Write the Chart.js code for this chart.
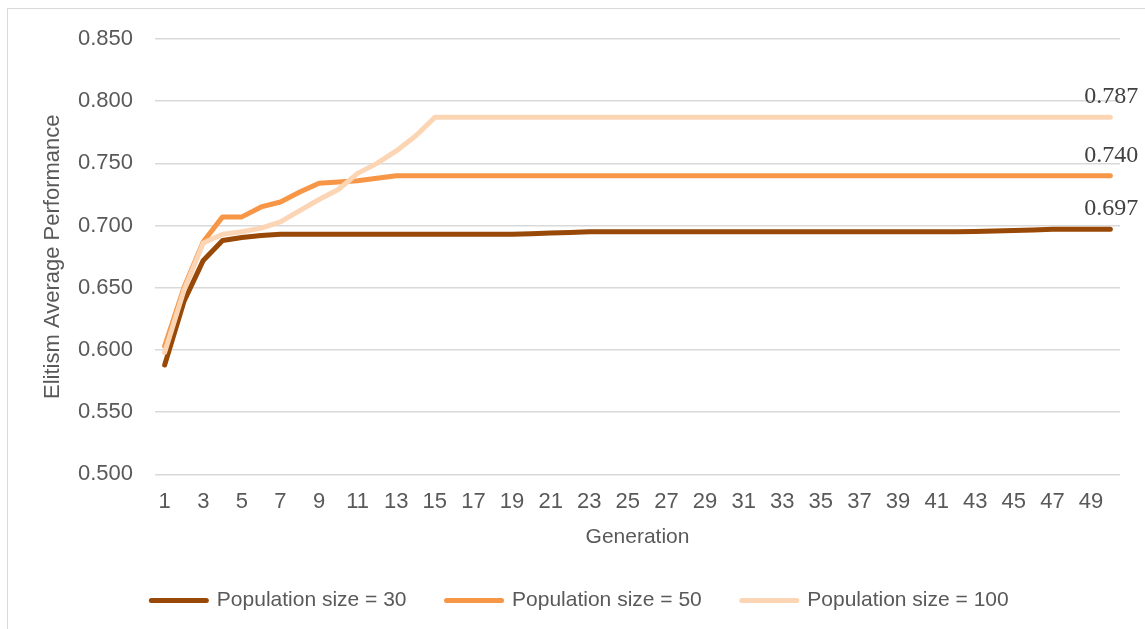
<!DOCTYPE html>
<html>
<head>
<meta charset="utf-8">
<script src="https://cdn.jsdelivr.net/npm/chart.js@4/dist/chart.umd.min.js"></script>
<style>
  html, body { margin: 0; padding: 0; background: #ffffff; overflow: hidden; }
  #frame {
    position: absolute;
    left: 7px;
    top: 8px;
    width: 1300px;
    height: 800px;
    border: 1px solid #d9d9d9;
  }
  #wrap { position: absolute; left: 0; top: 0; width: 1145px; height: 629px; }
</style>
</head>
<body>
<div id="frame"></div>
<div id="wrap"><canvas id="chart" width="1145" height="629"></canvas></div>
<script>
const generations = [
  "1", "2", "3", "4", "5", "6", "7", "8", "9", "10",
  "11", "12", "13", "14", "15", "16", "17", "18", "19", "20",
  "21", "22", "23", "24", "25", "26", "27", "28", "29", "30",
  "31", "32", "33", "34", "35", "36", "37", "38", "39", "40",
  "41", "42", "43", "44", "45", "46", "47", "48", "49", "50",
];

const pop30 = [
  0.588, 0.639, 0.672, 0.688, 0.6905, 0.692, 0.693, 0.693, 0.693, 0.693,
  0.693, 0.693, 0.693, 0.693, 0.693, 0.693, 0.693, 0.693, 0.693, 0.6935,
  0.694, 0.6945, 0.695, 0.695, 0.695, 0.695, 0.695, 0.695, 0.695, 0.695,
  0.695, 0.695, 0.695, 0.695, 0.695, 0.695, 0.695, 0.695, 0.695, 0.695,
  0.695, 0.695, 0.6953, 0.6957, 0.696, 0.6965, 0.697, 0.697, 0.697, 0.697,
];

const pop50 = [
  0.603, 0.650, 0.687, 0.707, 0.707, 0.715, 0.719, 0.727, 0.734, 0.735,
  0.736, 0.738, 0.740, 0.740, 0.740, 0.740, 0.740, 0.740, 0.740, 0.740,
  0.740, 0.740, 0.740, 0.740, 0.740, 0.740, 0.740, 0.740, 0.740, 0.740,
  0.740, 0.740, 0.740, 0.740, 0.740, 0.740, 0.740, 0.740, 0.740, 0.740,
  0.740, 0.740, 0.740, 0.740, 0.740, 0.740, 0.740, 0.740, 0.740, 0.740,
];

const pop100 = [
  0.598, 0.648, 0.686, 0.693, 0.695, 0.698, 0.703, 0.712, 0.721, 0.729,
  0.742, 0.750, 0.760, 0.772, 0.787, 0.787, 0.787, 0.787, 0.787, 0.787,
  0.787, 0.787, 0.787, 0.787, 0.787, 0.787, 0.787, 0.787, 0.787, 0.787,
  0.787, 0.787, 0.787, 0.787, 0.787, 0.787, 0.787, 0.787, 0.787, 0.787,
  0.787, 0.787, 0.787, 0.787, 0.787, 0.787, 0.787, 0.787, 0.787, 0.787,
];

const seriesNames = ["Population size = 30", "Population size = 50", "Population size = 100"];
const seriesColors = ["#984807", "#f79646", "#fcd5b5"];

const yMin = 0.5;
const yMax = 0.85;
const yStep = 0.05;

const textColor = "#595959";
const gridColor = "#d9d9d9";
const sansFont = "'Liberation Sans', Arial, sans-serif";

// value of the last point of each series, written above it
const lastValueLabels = {
  id: "lastValueLabels",
  afterDatasetsDraw(chart) {
    const ctx = chart.ctx;
    ctx.save();
    ctx.font = "24px 'Liberation Serif', Cambria, serif";
    ctx.fillStyle = "#404040";
    ctx.textAlign = "center";
    ctx.textBaseline = "alphabetic";
    chart.data.datasets.forEach((dataset, i) => {
      const meta = chart.getDatasetMeta(i);
      const last = meta.data[meta.data.length - 1];
      const value = dataset.data[dataset.data.length - 1];
      ctx.fillText(value.toFixed(3), last.x + 1, last.y - 14);
    });
    ctx.restore();
  },
};

function makeDataset(label, values, color, order) {
  return {
    label,
    data: values,
    borderColor: color,
    backgroundColor: color,
    borderWidth: 5,
    borderCapStyle: "round",
    borderJoinStyle: "round",
    pointRadius: 0,
    tension: 0,
    fill: false,
    order,
  };
}

new Chart(document.getElementById("chart"), {
  type: "line",
  data: {
    labels: generations,
    datasets: [
      makeDataset(seriesNames[0], pop30, seriesColors[0], 3),
      makeDataset(seriesNames[1], pop50, seriesColors[1], 2),
      makeDataset(seriesNames[2], pop100, seriesColors[2], 1),
    ],
  },
  options: {
    responsive: false,
    animation: false,
    layout: {
      padding: { left: 40, right: 25, top: 39, bottom: 8 },
    },
    plugins: {
      tooltip: { enabled: false },
      legend: {
        display: true,
        position: "bottom",
        labels: {
          usePointStyle: true,
          pointStyleWidth: 55,
          padding: 40,
          color: textColor,
          font: { family: sansFont, size: 21 },
          generateLabels(chart) {
            return chart.data.datasets.map((dataset, i) => ({
              text: dataset.label,
              fillStyle: dataset.borderColor,
              strokeStyle: dataset.borderColor,
              lineWidth: 5,
              lineCap: "round",
              pointStyle: "line",
              hidden: false,
              datasetIndex: i,
              fontColor: textColor,
            }));
          },
        },
      },
    },
    scales: {
      x: {
        type: "category",
        offset: true,
        grid: { display: false, drawTicks: false },
        border: { display: false },
        ticks: {
          autoSkip: false,
          maxRotation: 0,
          padding: 14,
          color: textColor,
          font: { family: sansFont, size: 22 },
          callback(value, index) {
            return index % 2 === 0 ? generations[index] : "";
          },
        },
        title: {
          display: true,
          text: "Generation",
          color: textColor,
          font: { family: sansFont, size: 21 },
          padding: { top: -4, bottom: 0 },
        },
      },
      y: {
        min: yMin,
        max: yMax,
        grid: { color: gridColor, lineWidth: 1.5, drawTicks: false },
        border: { display: false },
        ticks: {
          stepSize: yStep,
          padding: 22,
          color: textColor,
          font: { family: sansFont, size: 22 },
          callback(value) {
            return Number(value).toFixed(3);
          },
        },
        title: {
          display: true,
          text: "Elitism Average Performance",
          color: textColor,
          font: { family: sansFont, size: 22 },
          padding: { top: 0, bottom: 0 },
        },
        afterFit(scale) {
          scale.width = 115;
        },
      },
    },
  },
  plugins: [lastValueLabels],
});
</script>
</body>
</html>
